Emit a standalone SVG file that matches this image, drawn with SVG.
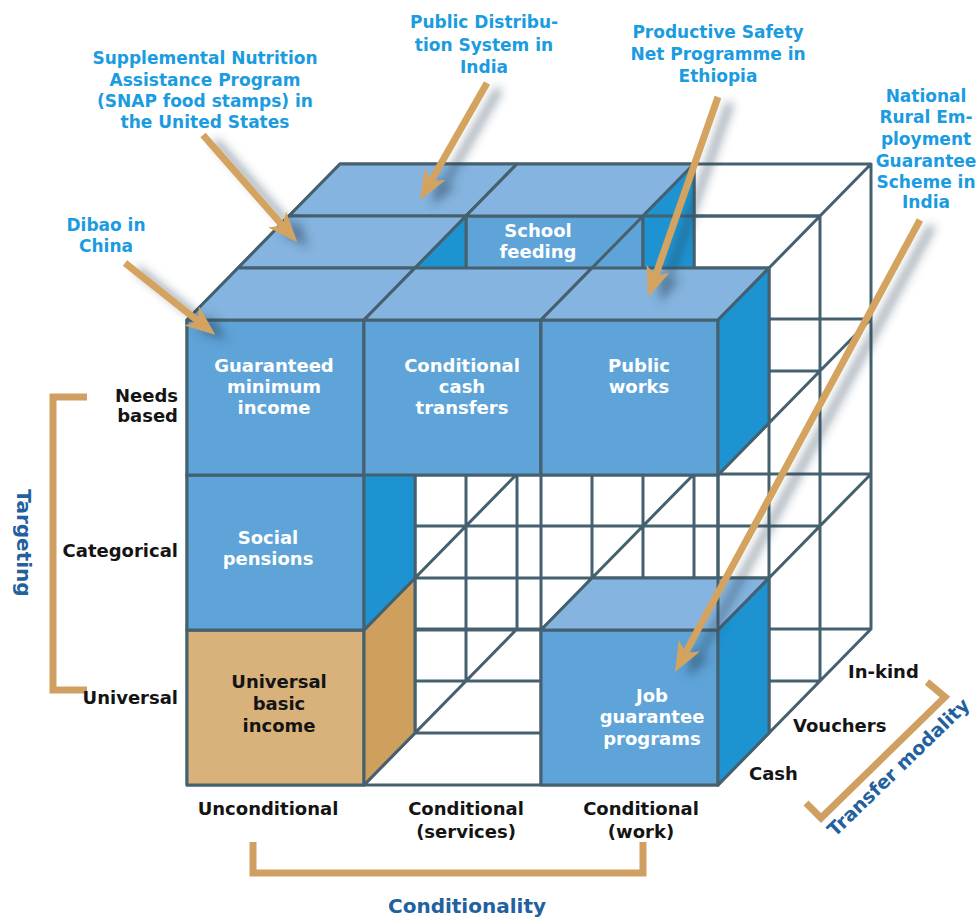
<svg xmlns="http://www.w3.org/2000/svg" width="980" height="918" viewBox="0 0 980 918">
<defs>
<style>
.ln{fill:none;stroke:#45606e;stroke-width:3;stroke-linecap:round;stroke-linejoin:round}
.fr{fill:#5ea4d9;stroke:#45606e;stroke-width:3;stroke-linejoin:round}
.tp{fill:#85b4e0;stroke:#45606e;stroke-width:3;stroke-linejoin:round}
.rt{fill:#1d93d1;stroke:#45606e;stroke-width:3;stroke-linejoin:round}
.tfr{fill:#d8b17b;stroke:#45606e;stroke-width:3;stroke-linejoin:round}
.trt{fill:#cf9f5d;stroke:#45606e;stroke-width:3;stroke-linejoin:round}
.t{font-family:"DejaVu Sans","Liberation Sans",sans-serif;font-weight:bold;text-anchor:middle}
.w{fill:#ffffff;font-size:18px}
.k{fill:#141414;font-size:18px}
.b{fill:#1b9be0;font-size:17px}
.ax{fill:#22609e;font-size:20px}
.br{fill:none;stroke:#d0a062;stroke-width:7}
.ar{fill:none;stroke:#d3a35f;stroke-width:7;marker-end:url(#ah)}
</style>
<marker id="ah" markerUnits="userSpaceOnUse" markerWidth="30" markerHeight="24" viewBox="0 0 30 24" refX="8" refY="12" orient="auto">
<path d="M0,0 L30,12 L0,24 L8,12 Z" fill="#d3a35f"/>
</marker>
<filter id="sh" x="-30%" y="-30%" width="160%" height="160%">
<feDropShadow dx="12" dy="6" stdDeviation="5" flood-color="#2b4256" flood-opacity="0.5"/>
</filter>
</defs>
<rect width="980" height="918" fill="#ffffff"/>

<g id="lattice">
<path class="ln" d="M187,320H718M187,475H718M187,630H718M187,785H718
M238,268H769M238,423H769M238,578H769M238,733H769
M289,216H820M289,371H820M289,526H820M289,681H820
M340,164H871M340,319H871M340,474H871M340,629H871
M187,320V785M364,320V785M541,320V785M718,320V785
M238,268V733M415,268V733M592,268V733M769,268V733
M289,216V681M466,216V681M643,216V681M820,216V681
M340,164V629M517,164V629M694,164V629M871,164V629
M187,320l153,-156M187,475l153,-156M187,630l153,-156M187,785l153,-156
M364,320l153,-156M364,475l153,-156M364,630l153,-156M364,785l153,-156
M541,320l153,-156M541,475l153,-156M541,630l153,-156M541,785l153,-156
M718,320l153,-156M718,475l153,-156M718,630l153,-156M718,785l153,-156"/>
</g>

<g id="cube-pds">
<rect class="fr" x="289" y="216" width="177" height="155"/>
<polygon class="tp" points="289,216 340,164 517,164 466,216"/>
<polygon class="rt" points="466,216 517,164 517,319 466,371"/>
</g>
<g id="cube-school-feeding">
<rect class="fr" x="466" y="216" width="177" height="155"/>
<polygon class="tp" points="466,216 517,164 694,164 643,216"/>
<polygon class="rt" points="643,216 694,164 694,319 643,371"/>
<text class="t w" x="538" y="237">School</text>
<text class="t w" x="538" y="258">feeding</text>
</g>
<g id="cube-snap">
<rect class="fr" x="238" y="268" width="177" height="155"/>
<polygon class="tp" points="238,268 289,216 466,216 415,268"/>
<polygon class="rt" points="415,268 466,216 466,371 415,423"/>
</g>
<g id="cube-ubi">
<rect class="tfr" x="187" y="630" width="177" height="155"/>
<polygon class="tfr" points="187,630 238,578 415,578 364,630"/>
<polygon class="trt" points="364,630 415,578 415,733 364,785"/>
<text class="t k" x="279" y="688">Universal</text>
<text class="t k" x="279" y="710">basic</text>
<text class="t k" x="279" y="732">income</text>
</g>
<g id="cube-job-guarantee">
<rect class="fr" x="541" y="630" width="177" height="155"/>
<polygon class="tp" points="541,630 592,578 769,578 718,630"/>
<polygon class="rt" points="718,630 769,578 769,733 718,785"/>
<text class="t w" x="652" y="702">Job</text>
<text class="t w" x="652" y="723">guarantee</text>
<text class="t w" x="652" y="745">programs</text>
</g>
<g id="cube-social-pensions">
<rect class="fr" x="187" y="475" width="177" height="155"/>
<polygon class="tp" points="187,475 238,423 415,423 364,475"/>
<polygon class="rt" points="364,475 415,423 415,578 364,630"/>
<text class="t w" x="268" y="544">Social</text>
<text class="t w" x="268" y="565">pensions</text>
</g>
<g id="cube-gmi">
<rect class="fr" x="187" y="320" width="177" height="155"/>
<polygon class="tp" points="187,320 238,268 415,268 364,320"/>
<polygon class="rt" points="364,320 415,268 415,423 364,475"/>
<text class="t w" x="274" y="372">Guaranteed</text>
<text class="t w" x="274" y="393">minimum</text>
<text class="t w" x="274" y="414">income</text>
</g>
<g id="cube-cct">
<rect class="fr" x="364" y="320" width="177" height="155"/>
<polygon class="tp" points="364,320 415,268 592,268 541,320"/>
<polygon class="rt" points="541,320 592,268 592,423 541,475"/>
<text class="t w" x="462" y="372">Conditional</text>
<text class="t w" x="462" y="393">cash</text>
<text class="t w" x="462" y="414">transfers</text>
</g>
<g id="cube-public-works">
<rect class="fr" x="541" y="320" width="177" height="155"/>
<polygon class="tp" points="541,320 592,268 769,268 718,320"/>
<polygon class="rt" points="718,320 769,268 769,423 718,475"/>
<text class="t w" x="639" y="372">Public</text>
<text class="t w" x="639" y="393">works</text>
</g>

<g id="lattice-front">
<path class="ln" d="M592,268L643,216H820M718,475V630"/>
</g>

<g id="axis-targeting">
<path class="br" d="M87,397H53V690H87"/>
<text class="t k" x="178" y="402" style="text-anchor:end">Needs</text>
<text class="t k" x="178" y="422" style="text-anchor:end">based</text>
<text class="t k" x="178" y="557" style="text-anchor:end">Categorical</text>
<text class="t k" x="178" y="704" style="text-anchor:end">Universal</text>
<text class="t ax" transform="translate(17,543) rotate(90)">Targeting</text>
</g>
<g id="axis-conditionality">
<path class="br" d="M253,842V873H643V842"/>
<text class="t k" x="268" y="815">Unconditional</text>
<text class="t k" x="466" y="815">Conditional</text>
<text class="t k" x="466" y="838">(services)</text>
<text class="t k" x="641" y="815">Conditional</text>
<text class="t k" x="641" y="838">(work)</text>
<text class="t ax" x="467" y="913">Conditionality</text>
</g>
<g id="axis-transfer-modality">
<path class="br" d="M927,682L945,697L821,818L806,803"/>
<text class="t k" x="848" y="678" style="text-anchor:start">In-kind</text>
<text class="t k" x="793" y="732" style="text-anchor:start">Vouchers</text>
<text class="t k" x="749" y="780" style="text-anchor:start">Cash</text>
<text class="t ax" style="font-size:19px" transform="translate(903,772) rotate(-44)">Transfer modality</text>
</g>

<g id="label-snap">
<text class="t b" x="205" y="64">Supplemental Nutrition</text>
<text class="t b" x="205" y="86">Assistance Program</text>
<text class="t b" x="205" y="107">(SNAP food stamps) in</text>
<text class="t b" x="205" y="128">the United States</text>
</g>
<g id="label-dibao">
<text class="t b" x="106" y="231">Dibao in</text>
<text class="t b" x="106" y="252">China</text>
</g>
<g id="label-pds">
<text class="t b" x="484" y="28">Public Distribu-</text>
<text class="t b" x="484" y="51">tion System in</text>
<text class="t b" x="484" y="73">India</text>
</g>
<g id="label-psnp">
<text class="t b" x="718" y="38">Productive Safety</text>
<text class="t b" x="718" y="60">Net Programme in</text>
<text class="t b" x="718" y="82">Ethiopia</text>
</g>
<g id="label-nregs">
<text class="t b" x="926" y="102">National</text>
<text class="t b" x="926" y="123">Rural Em-</text>
<text class="t b" x="926" y="145">ployment</text>
<text class="t b" x="926" y="167">Guarantee</text>
<text class="t b" x="926" y="188">Scheme in</text>
<text class="t b" x="926" y="208">India</text>
</g>

<g id="connectors" filter="url(#sh)">
<path class="ar" d="M125,263L198,321"/>
<path class="ar" d="M203,135L282.5,225.5"/>
<path class="ar" d="M487,83L431,181"/>
<path class="ar" d="M718,97L655.3,276.2"/>
<path class="ar" d="M920,220L685.5,652.7"/>
</g>
</svg>
